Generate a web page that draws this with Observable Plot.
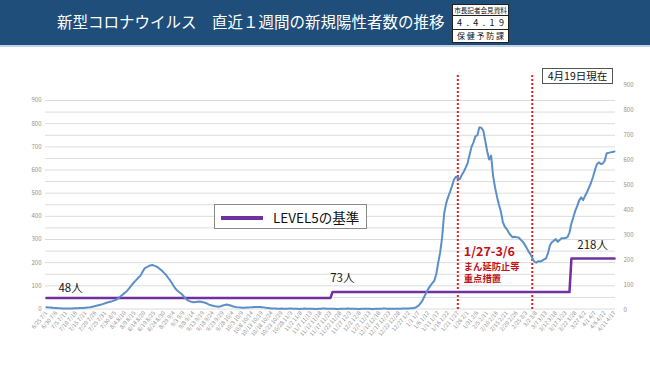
<!DOCTYPE html>
<html><head><meta charset="utf-8">
<script src="https://cdn.jsdelivr.net/npm/d3@7"></script>
<script src="https://cdn.jsdelivr.net/npm/@observablehq/plot@0.6"></script>
<style>
body{margin:0;background:#fff;font-family:"Noto Sans CJK JP","Noto Sans",sans-serif;}
#wrap{position:relative;width:650px;height:365px;overflow:hidden;background:#fff;}
#wrap svg{position:absolute;left:0;top:0;}
#titlebar{position:absolute;left:0;top:0;width:650px;height:45px;background:#1f4e7a;}
#strip{position:absolute;left:0;top:45px;width:650px;height:2px;background:#bcd3e8;}
#title{position:absolute;left:57px;top:10px;color:#fff;font-size:15.5px;line-height:23px;white-space:nowrap;letter-spacing:0px;}
#badge{position:absolute;left:452px;top:4px;width:57px;height:39px;background:#fff;border:1px solid #222;box-sizing:border-box;color:#111;}
#badge .row{display:flex;justify-content:space-between;align-items:center;padding:0 4px;box-sizing:border-box;border-bottom:1px solid #222;line-height:1;}
#badge .row:last-child{border-bottom:none;}
#legend{position:absolute;left:214px;top:204px;width:153px;height:25px;border:1px solid #8a8a8a;background:#fff;box-sizing:border-box;z-index:2;}
#legend .swatch{position:absolute;left:6px;top:10.5px;width:42px;height:4px;background:#7030a0;}
#legend .lab{position:absolute;left:58px;top:3px;font-size:13.5px;line-height:18px;color:#111;white-space:nowrap;}
#asof{position:absolute;left:542px;top:68px;width:71px;height:16px;border:1px solid #555;box-sizing:border-box;font-size:10.5px;line-height:14px;text-align:center;color:#111;background:#fff;z-index:2;}
</style></head>
<body>
<div id="wrap">
  <div id="titlebar"></div><div id="strip"></div>
  <div id="title">新型コロナウイルス　直近１週間の新規陽性者数の推移</div>
  <div id="badge"></div>
  <div id="asof">4月19日現在</div>
  <div id="legend"><div class="swatch"></div><div class="lab">LEVEL5の基準</div></div>
</div>
<script>
// ---- data ----
const tickLabels = ["6/25 7/1","6/30 7/6","7/5 7/11","7/10 7/16","7/15 7/21","7/20 7/26","7/25 7/31","7/30 8/5","8/4 8/10","8/9 8/15","8/14 8/20","8/19 8/25","8/24 8/30","8/29 9/4","9/3 9/9","9/8 9/14","9/13 9/19","9/18 9/24","9/23 9/29","9/28 10/4","10/3 10/9","10/8 10/14","10/13 10/19","10/18 10/24","10/23 10/29","10/28 11/3","11/2 11/8","11/7 11/13","11/12 11/18","11/17 11/23","11/22 11/28","11/27 12/3","12/2 12/8","12/7 12/13","12/12 12/18","12/17 12/23","12/22 12/28","12/27 1/2","1/1 1/7","1/6 1/12","1/11 1/17","1/16 1/22","1/21 1/27","1/26 2/1","1/31 2/6","2/5 2/11","2/10 2/16","2/15 2/21","2/20 2/26","2/25 3/3","3/2 3/8","3/7 3/13","3/12 3/18","3/17 3/23","3/22 3/28","3/27 4/2","4/1 4/7","4/6 4/12","4/11 4/17"];
const tickEvery = 5;
// daily 7-day totals (day 0 = window ending 7/1)
const weeklyCases = [
8,7,6,5,4,4,3,3,2,2,
2,2,2,2,3,3,3,4,4,4,
5,6,7,9,11,13,15,17,19,22,
25,28,30,32,35,38,42,49,56,63,
70,77,87,98,108,118,127,136,144,160,
174,180,184,188,190,187,184,179,172,165,
156,148,136,125,112,98,86,78,71,65,
55,45,38,34,31,29,30,31,32,31,
29,27,23,19,16,14,12,11,10,12,
15,17,19,17,15,12,10,8,7,6,
5,5,6,6,7,8,9,9,9,9,
8,7,5,4,3,2,2,2,1,1,
2,1,1,1,2,2,1,1,1,0,
1,1,2,1,1,1,1,0,0,1,
1,2,2,1,1,1,1,1,0,0,
1,1,1,1,2,1,1,1,1,0,
0,1,1,1,1,1,0,0,1,1,
1,1,2,2,1,1,1,1,1,1,
1,1,2,2,2,2,3,3,5,9,
15,25,37,55,72,88,101,112,122,150,
200,245,310,410,455,482,505,530,558,571,
566,560,578,592,610,630,665,700,719,745,
750,784,782,770,726,680,645,662,575,525,
485,450,420,375,355,345,330,318,310,312,
310,309,300,292,280,266,250,238,220,205,
200,206,205,208,214,218,240,274,288,295,
302,290,298,305,305,306,310,330,370,396,
425,445,470,482,470,489,505,525,545,570,
600,625,633,626,628,640,672,674,676,678,
680];
const levelValues = [48, 73, 218];
const levelStartDay = [0, 146, 268];
const levelLabels = ["48人", "73人", "218人"];
const measureDays = [210, 248]; // 1/27 and 3/6
const measureNote = ["1/27-3/6", "まん延防止等", "重点措置"];
const yTicks = [0,100,200,300,400,500,600,700,800,900];
const rightTicks = [0,100,200,300,400,500,600,700,800,900];
const badgeRows = ["市長記者会見資料", "4.4.19", "保健予防課"];

// ---- build tables ----
const caseSeries = weeklyCases.map((v, i) => ({day: i, cases: v}));
const levelSeries = weeklyCases.map((_, i) => {
  let k = 0;
  for (let j = 0; j < levelStartDay.length; j++) if (i >= levelStartDay[j]) k = j;
  return {day: i, level: levelValues[k]};
});
const xTicks = tickLabels.map((_, i) => i * tickEvery);
const lastDay = weeklyCases.length - 1;

const font = '"Noto Sans CJK JP","Noto Sans",sans-serif';
const wrap = document.getElementById("wrap");

// badge
const badge = document.getElementById("badge");
const rowH = [11, 14, 12], rowF = [6.6, 9, 8];
badgeRows.forEach((t, r) => {
  const row = document.createElement("div");
  row.className = "row";
  row.style.height = rowH[r] + "px";
  row.style.fontSize = rowF[r] + "px";
  if (r === 0) { row.style.justifyContent = "center"; row.style.padding = "0"; row.textContent = t; }
  else for (const ch of t) { const s = document.createElement("span"); s.textContent = ch; row.appendChild(s); }
  badge.appendChild(row);
});

const y0 = 308.5;
const chart = Plot.plot({
  width: 650, height: 365,
  marginLeft: 45, marginRight: 35, marginTop: 100, marginBottom: 365 - y0,
  style: {fontFamily: font, background: "transparent", overflow: "visible"},
  x: {type: "linear", domain: [-0.5, lastDay + 0.5]},
  y: {domain: [0, 900]},
  marks: [
    Plot.gridY(d3.range(0, 901, 50), {stroke: "#dcdcdc", strokeOpacity: 1, strokeWidth: 1}),
    Plot.axisY(yTicks, {tickSize: 0, tickPadding: 4, fontSize: 6, fill: "#8f8f8f", label: null}),
    Plot.axisX(xTicks, {tickSize: 0, tickPadding: 3, tickRotate: -50, fontSize: 5.6, fill: "#8f8f8f",
      tickFormat: d => tickLabels[d / tickEvery], label: null}),
    Plot.ruleX(measureDays, {stroke: "#e0201f", strokeWidth: 2, strokeDasharray: "2,2", insetTop: -25, insetBottom: -2}),
    Plot.line(levelSeries, {x: "day", y: "level", stroke: "#7030a0", strokeWidth: 2.5}),
    Plot.line(caseSeries, {x: "day", y: "cases", stroke: "#5b8fc8", strokeWidth: 2}),
    Plot.text([levelLabels[0]], {x: 12.3, y: levelValues[0], dy: -10, fontSize: 11.5, fill: "#1a1a1a"}),
    Plot.text([levelLabels[1]], {x: 151, y: levelValues[1], dy: -13.5, fontSize: 11.5, fill: "#1a1a1a"}),
    Plot.text([levelLabels[2]], {x: 278.8, y: levelValues[2], dy: -13, fontSize: 11.5, fill: "#1a1a1a"}),
    Plot.text([measureNote[0]], {x: measureDays[0], y: 0, dx: 6, dy: -57, textAnchor: "start", fontSize: 12.5, fontWeight: "bold", fill: "#c0121b"}),
    Plot.text([measureNote[1]], {x: measureDays[0], y: 0, dx: 6, dy: -42, textAnchor: "start", fontSize: 9.3, fontWeight: "bold", fill: "#c0121b"}),
    Plot.text([measureNote[2]], {x: measureDays[0], y: 0, dx: 6, dy: -29.5, textAnchor: "start", fontSize: 9.3, fontWeight: "bold", fill: "#c0121b"})
  ]
});
wrap.insertBefore(chart, wrap.firstChild);

// secondary (right) axis, with its own range
const rightAxis = Plot.plot({
  width: 650, height: 365,
  marginLeft: 45, marginRight: 30, marginTop: 85, marginBottom: 55.7,
  style: {fontFamily: font, background: "transparent"},
  y: {domain: [0, 900]},
  marks: [Plot.axisY(rightTicks, {anchor: "right", tickSize: 0, tickPadding: 3, fontSize: 6, fill: "#8f8f8f", label: null})]
});
wrap.insertBefore(rightAxis, chart.nextSibling);
</script>
</body></html>
